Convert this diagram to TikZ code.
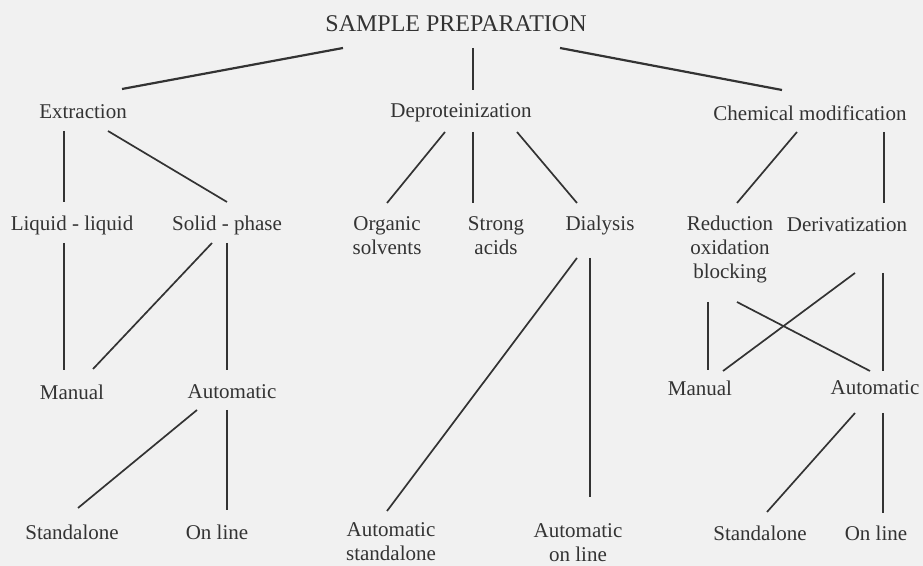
\documentclass[tikz,border=0pt]{standalone}
\usepackage{fontspec}
\setmainfont{Liberation Serif}
\usetikzlibrary{calc}
\definecolor{ink}{HTML}{333333}
\definecolor{paper}{HTML}{F1F1F1}

\begin{document}
\begin{tikzpicture}[x=0.5pt,y=-0.5pt,color=ink,line width=0.85pt]
  \tikzstyle{every node} = [inner sep=0pt, align=center, font=\fontsize{10.5}{12}\selectfont];
  \fill[paper] (0,0) rectangle (923,566);

  \node(title) at (456,24) {\fontsize{12}{14}\selectfont SAMPLE PREPARATION};

  % first level
  \node(ext) at (83,112) {Extraction};
  \node(dep) at (461,113) {Deproteinization};
  \node(chm) at (810,113) {Chemical modification};

  % second level
  \node(lil) at (72,225) {Liquid - liquid};
  \node(sph) at (227,225) {Solid - phase};
  \node(org) at (387,236) {Organic\\solvents};
  \node(sta) at (496,236) {Strong\\acids};
  \node(dia) at (600,225) {Dialysis};
  \node(red) at (730,249) {Reduction\\oxidation\\blocking};
  \node(der) at (847,225) {Derivatization};

  % third level
  \node(man1) at (72,392) {Manual};
  \node(aut1) at (232,392) {Automatic};
  \node(man2) at (700,388) {Manual};
  \node(aut2) at (875,388) {Automatic};

  % fourth level
  \node(std1) at (72,532) {Standalone};
  \node(onl1) at (217,532) {On line};
  \node(ast) at (391,542) {Automatic\\standalone};
  \node(aol) at (578,543) {Automatic\\on line};
  \node(std2) at (760,533) {Standalone};
  \node(onl2) at (876,533) {On line};

  \path[line width=1.1pt]
  \foreach \a/\ax/\ay/\b/\bx/\by in {title/-113/24/ext/39/-23,title/17/24/dep/12/-23,title/104/24/chm/-28/-23}{
    ($(\a)+(\ax,\ay)$) edge ($(\b)+(\bx,\by)$)
  };
  \path[]
  \foreach \a/\ax/\ay/\b/\bx/\by in {ext/-19/19/lil/-8/-23,ext/25/19/sph/0/-23,
      dep/-16/19/org/0/-33,dep/12/19/sta/-23/-33,dep/56/19/dia/-23/-22,
      chm/-13/19/red/7/-46,chm/74/19/der/37/-22,
      lil/-8/18/man1/-8/-22,sph/-15/18/man1/21/-23,sph/0/18/aut1/-5/-22,
      aut1/-35/18/std1/6/-24,aut1/-5/18/onl1/10/-22,
      dia/-23/33/ast/-4/-31,dia/-10/33/aol/12/-46,
      red/-22/53/man2/8/-18,red/7/53/aut2/-5/-17,
      der/8/48/man2/23/-17,der/36/48/aut2/8/-17,
      aut2/-20/25/std2/7/-21,aut2/8/25/onl2/7/-20}{
    ($(\a)+(\ax,\ay)$) edge ($(\b)+(\bx,\by)$)
  };
\end{tikzpicture}
\end{document}
